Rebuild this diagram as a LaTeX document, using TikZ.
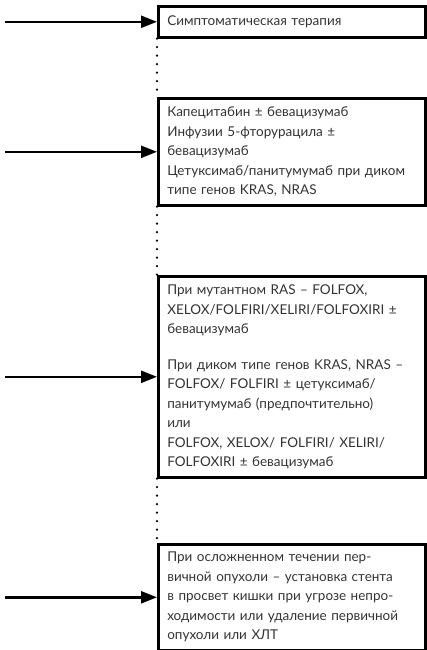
\documentclass[tikz,border=0pt]{standalone}
\usepackage{fontspec}
\setmainfont{Lato}
\usetikzlibrary{arrows.meta}

\begin{document}
\begin{tikzpicture}[x=1pt,y=-1pt,
  box/.style={draw, line width=2.6pt, anchor=north west, text width=249pt,
    inner xsep=9pt, align=left, text=black!80,
    font=\fontsize{13.5}{19.5}\selectfont},
  arr/.style={line width=2.4pt, -{Triangle[length=16pt,width=12pt]}},
  dots/.style={line width=2.4pt, dash pattern=on 0pt off 8.5pt, line cap=round}]

\useasboundingbox (0,0) rectangle (427,650);

% Treatment boxes
\node[box, minimum height=31pt] (symp) at (157,5) {Симптоматическая терапия};
\node[box, minimum height=107pt] (cape) at (157,97) {Капецитабин ± бевацизумаб\\
Инфузии 5-фторурацила ±\\
бевацизумаб\\
Цетуксимаб/панитумумаб при диком\\
типе генов KRAS, NRAS};
\node[box, minimum height=201pt] (folf) at (157,275) {При мутантном RAS – FOLFOX,\\
XELOX/FOLFIRI/XELIRI/FOLFOXIRI ±\\
бевацизумаб\\[16pt]
При диком типе генов KRAS, NRAS –\\
FOLFOX/ FOLFIRI ± цетуксимаб/\\
панитумумаб (предпочтительно)\\
или\\
FOLFOX, XELOX/ FOLFIRI/ XELIRI/\\
FOLFOXIRI ± бевацизумаб};
\node[box, minimum height=106pt] (stent) at (157,543) {При осложненном течении пер-\\
вичной опухоли – установка стента\\
в просвет кишки при угрозе непро-\\
ходимости или удаление первичной\\
опухоли или ХЛТ};

% Arrow tails
\coordinate (t1) at ([xshift=-152pt]symp.west);
\coordinate (t2) at ([xshift=-152pt]cape.west);
\coordinate (t3) at ([xshift=-152pt]folf.west);
\coordinate (t4) at ([xshift=-152pt]stent.west);

% Arrows
\draw[arr] (t1) -- (symp.west);
\draw[arr] (t2) -- (cape.west);
\draw[arr] (t3) -- (folf.west);
\draw[arr] (t4) -- (stent.west);

% Dotted links
\draw[dots] (symp.south west) -- (cape.north west);
\draw[dots] (cape.south west) -- (folf.north west);
\draw[dots] (folf.south west) -- (stent.north west);

\end{tikzpicture}
\end{document}
